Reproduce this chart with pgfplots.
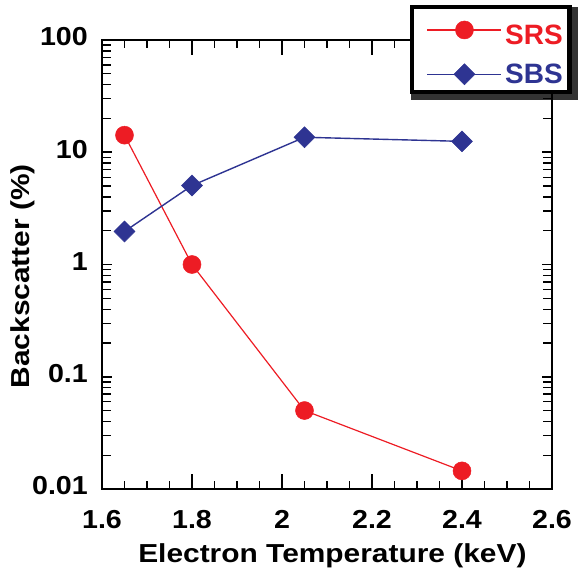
\documentclass[border=0pt]{standalone}
\usepackage{fontspec}
\setmainfont{Liberation Sans}
\newfontfamily\tickfont{Liberation Sans}[FakeStretch=1.1]
\newfontfamily\labfont{Liberation Sans}[FakeStretch=1.15]
\usepackage{pgfplots}
\pgfplotsset{compat=1.18}
\pgfdeclarelayer{background}
\pgfsetlayers{background,main}
\definecolor{srs}{RGB}{237,28,36}
\definecolor{sbs}{RGB}{46,52,146}
\begin{document}
\begin{tikzpicture}
\useasboundingbox (-102pt,-82pt) rectangle (477pt,489pt);
\begin{axis}[
  at={(0pt,0pt)}, anchor=south west,
  width=450pt, height=449pt, scale only axis,
  xmin=1.6, xmax=2.6, ymode=log, ymin=0.01, ymax=100,
  xtick={1.6,1.8,2,2.2,2.4,2.6},
  xticklabels={1.6,1.8,2,2.2,2.4,2.6},
  ytick={0.01,0.1,1,10,100},
  yticklabels={0.01,0.1,1,10,100},
  every tick/.append style={draw=none},
  clip=false,
  tick label style={font=\tickfont\bfseries\fontsize{26}{30}\selectfont},
  xticklabel style={anchor=base, yshift=-39pt},
  yticklabel style={anchor=east, inner xsep=0pt, xshift=-14pt, yshift=3pt},
  label style={font=\labfont\bfseries\fontsize{26}{30}\selectfont},
  xlabel={Electron Temperature (keV)},
  ylabel={Backscatter (\%)},
  xlabel style={at={(axis description cs:0.512,-0.1648)}, anchor=base},
  ylabel style={at={(axis description cs:-0.16,0.474)}, anchor=base, rotate=0},
  legend style={name=leg, at={(1.0444,1.078)}, anchor=north east, draw=black, line width=4.5pt, fill=white,
    font=\fontsize{28}{32}\selectfont\bfseries, row sep=14pt, inner xsep=4pt, inner ysep=5pt,
    nodes={inner xsep=3pt, inner ysep=2pt}},
  legend cell align=left,
  legend image code/.code={\path[draw=none,fill=none] (-4pt,-1pt) rectangle (0pt,1pt);
     \draw[mark repeat=2,mark phase=2,#1] plot coordinates {(7.5pt,0pt)(44.5pt,0pt)(81.5pt,0pt)};},
]
% frame and tick marks (inside, on all four sides)
\draw[black, line width=2.5pt] (rel axis cs:0,0) rectangle (rel axis cs:1,1);
\pgfplotsinvokeforeach{1.6,1.8,2,2.2,2.4,2.6}{
  \draw[black, line width=1.8pt] (axis cs:#1,0.01) -- (axis cs:#1,0.0136);
  \draw[black, line width=1.8pt] (axis cs:#1,100) -- (axis cs:#1,73.6);
}
\pgfplotsinvokeforeach{1.65,1.7,1.75,1.85,1.9,1.95,2.05,2.1,2.15,2.25,2.3,2.35,2.45,2.5,2.55}{
  \draw[black, line width=1.3pt] (axis cs:#1,0.01) -- (axis cs:#1,0.0118);
  \draw[black, line width=1.3pt] (axis cs:#1,100) -- (axis cs:#1,84.9);
}
\pgfplotsinvokeforeach{0.01,0.1,1,10,100}{
  \draw[black, line width=1.8pt] (axis cs:1.6,#1) -- (axis cs:1.622,#1);
  \draw[black, line width=1.8pt] (axis cs:2.6,#1) -- (axis cs:2.578,#1);
}
\pgfplotsinvokeforeach{0.02,0.03,0.04,0.05,0.06,0.07,0.08,0.09,0.2,0.3,0.4,0.5,0.6,0.7,0.8,0.9,2,3,4,5,6,7,8,9,20,30,40,50,60,70,80,90}{
  \draw[black, line width=1.3pt] (axis cs:1.6,#1) -- (axis cs:1.619,#1);
  \draw[black, line width=1.3pt] (axis cs:2.6,#1) -- (axis cs:2.581,#1);
}
\addplot[color=srs, line width=1.2pt, mark=*, mark size=9pt, mark options={solid, fill=srs, line width=0.5pt}]
  coordinates {(1.65,14.2) (1.8,1.0) (2.05,0.050) (2.4,0.0145)};
\addlegendentry{\textcolor{srs}{\rule{0pt}{30pt}SRS}}
\addplot[color=sbs, line width=1.4pt, mark=square*, mark size=7.4pt, mark options={solid, fill=sbs, rotate=45, line width=0.5pt}]
  coordinates {(1.65,1.97) (1.8,5.05) (2.05,13.6) (2.4,12.5)};
\addlegendentry{\textcolor{sbs}{SBS}}
\end{axis}
\begin{pgfonlayer}{background}
\filldraw[black!80, line width=4.5pt] ([xshift=4pt,yshift=-4pt]leg.south west) rectangle ([xshift=4pt,yshift=-4pt]leg.north east);
\end{pgfonlayer}
\end{tikzpicture}
\end{document}
